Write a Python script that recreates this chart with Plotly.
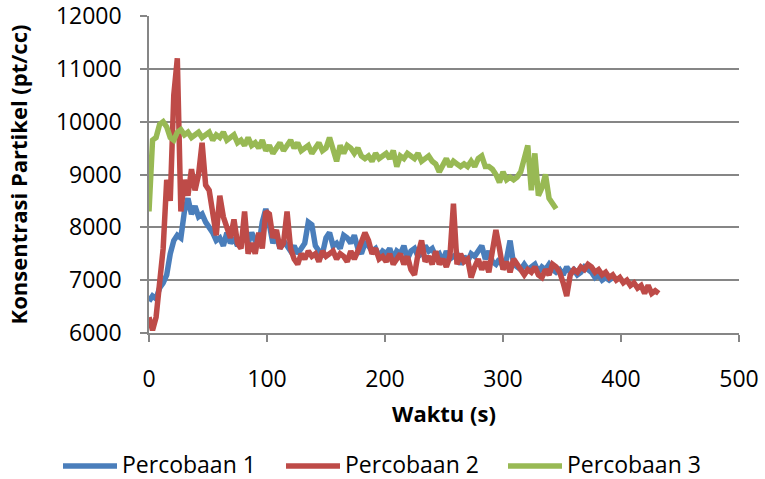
import plotly.graph_objects as go

step = 3

p1 = [6600, 6700, 6650, 6850, 6950, 7100, 7500, 7750, 7850, 7800,
      8300, 8550, 8250, 8400, 8200, 8250, 8100, 8000, 7900, 7750,
      7800, 7650, 7900, 7700, 7800, 7650, 7750, 7850, 7700, 7900,
      7750, 7650, 8100, 8350, 8050, 7700, 7850, 7600, 7750, 7650,
      7550, 7650, 7500, 7600, 7700, 8100, 8050, 7650, 7550, 7500,
      7800, 7900, 7650, 7700, 7600, 7850, 7800, 7700, 7850, 7600,
      7500, 7700, 7650, 7550, 7600, 7450, 7550, 7500, 7600, 7400,
      7550, 7500, 7650, 7400, 7550, 7600, 7450, 7500, 7650, 7550,
      7600, 7450, 7500, 7350, 7550, 7400, 7450, 7500, 7300, 7450,
      7350, 7500, 7450, 7550, 7650, 7400, 7550, 7350, 7300, 7400,
      7250, 7400, 7750, 7300, 7250, 7200, 7300, 7200, 7250, 7300,
      7150, 7250, 7200, 7300, 7200, 7150, 7200, 7100, 7250, 7150,
      7200, 7100, 7150, 7250, 7200, 7150, 7050, 7100, 7000, 7050,
      7000, 7050]

p2 = [6300, 6050, 6300, 6950, 7600, 8900, 8500, 10500, 11200, 8300,
      8900, 8600, 9100, 8700, 9000, 9600, 8800, 8700, 8200, 7850,
      8600, 8200, 8000, 7800, 8150, 7700, 7600, 8300, 7500, 7700,
      7500, 7900, 7600, 8300, 8250, 7800, 7950, 7600, 7700, 8300,
      7600, 7400, 7300, 7500, 7400, 7550, 7450, 7500, 7350, 7550,
      7450, 7500, 7550, 7400, 7500, 7450, 7350, 7550, 7400, 7550,
      7700, 7900, 7750, 7500, 7600, 7400, 7450, 7350, 7500, 7300,
      7400, 7500, 7300, 7450, 7200, 7100, 7500, 7750, 7350, 7450,
      7300, 7550, 7300, 7400, 7250, 7450, 8450, 7300, 7500, 7350,
      7400, 7050, 7250, 7400, 7200, 7350, 7150, 7600, 7950, 7600,
      7200, 7350, 7150, 7400, 7300, 7200, 7100, 7200, 7150, 7250,
      7100, 7050, 7200, 7100, 7300, 7250, 7150, 6950, 6700, 7100,
      7200, 7150, 7250, 7200, 7300, 7250, 7150, 7200, 7100, 7150,
      7050, 7100, 7000, 7050, 6950, 7000, 6900, 6950, 6850, 6900,
      6750, 6900, 6750, 6800, 6750]

p3 = [8300, 9650, 9700, 9950, 10000, 9900, 9700, 9650, 9800, 9850,
      9750, 9800, 9700, 9750, 9800, 9700, 9750, 9800, 9650, 9750,
      9700, 9800, 9650, 9700, 9750, 9600, 9650, 9550, 9700, 9550,
      9600, 9500, 9650, 9450, 9550, 9400, 9500, 9600, 9450, 9550,
      9650, 9500, 9600, 9450, 9500, 9550, 9400, 9500, 9600, 9450,
      9500, 9700, 9450, 9250, 9550, 9400, 9550, 9500, 9400, 9500,
      9350, 9300, 9350, 9250, 9400, 9300, 9350, 9400, 9300, 9450,
      9150, 9350, 9300, 9400, 9350, 9300, 9400, 9250, 9300, 9350,
      9250, 9200, 9050, 9200, 9300, 9150, 9250, 9200, 9150, 9200,
      9150, 9250, 9150, 9300, 9350, 9150, 9150, 9100, 9000, 8850,
      9050, 8900, 8950, 8900, 8950, 9050, 9300, 9550, 8700, 9400,
      8600, 8750, 9000, 8550, 8450, 8350]

names = ["Percobaan 1", "Percobaan 2", "Percobaan 3"]
colors = ["#4A7EBB", "#BE4B48", "#98B954"]
values = [p1, p2, p3]

x_ticks = [0, 100, 200, 300, 400, 500]
y_ticks = [6000, 7000, 8000, 9000, 10000, 11000, 12000]

FONT = "Open Sans, Noto Sans, Liberation Sans, sans-serif"

W, H = 765, 479
ML, MR, MT, MB = 149, 26, 16, 146
PW, PH = W - ML - MR, H - MT - MB


def px_x(px):
    return (px - ML) / PW


def px_y(py):
    return (H - MB - py) / PH


fig = go.Figure()
for name, vals, color in zip(names, values, colors):
    t = [i * step for i in range(len(vals))]
    fig.add_trace(go.Scatter(
        x=t, y=vals, mode="lines", name=name, showlegend=False,
        line=dict(color=color, width=5.5),
    ))

# Manual legend (line sample + label) below the plot
leg_y = 465
leg_line_x = [(63, 117), (286, 340), (508, 562)]
for (x0, x1), name, color in zip(leg_line_x, names, colors):
    fig.add_shape(type="line", xref="paper", yref="paper",
                  x0=px_x(x0), x1=px_x(x1), y0=px_y(leg_y + 1), y1=px_y(leg_y + 1),
                  line=dict(color=color, width=5.5))
    fig.add_annotation(xref="paper", yref="paper", x=px_x(x1 + 4), y=px_y(leg_y - 1),
                       xanchor="left", yanchor="middle", showarrow=False,
                       borderpad=0,
                       text=name, font=dict(family=FONT, size=23, color="black"))

fig.update_layout(
    width=W, height=H,
    margin=dict(l=ML, r=MR, t=MT, b=MB, autoexpand=False),
    paper_bgcolor="white", plot_bgcolor="white",
    font=dict(family=FONT, size=23, color="black"),
    showlegend=False,
)

fig.update_xaxes(
    range=[0, 500], tickvals=x_ticks, ticktext=[str(v) for v in x_ticks],
    showgrid=False, zeroline=False, automargin=False,
    showline=True, linecolor="#868686", linewidth=1.5,
    ticks="outside", ticklen=7, tickcolor="#868686", tickwidth=1.5,
    ticklabelstandoff=18, ticklabeloverflow="allow",
    title=dict(text="<b>Waktu (s)</b>", font=dict(family=FONT, size=22), standoff=13),
)
fig.update_yaxes(
    range=[6000, 12000], tickvals=y_ticks, ticktext=[str(v) for v in y_ticks],
    showgrid=True, gridcolor="#868686", gridwidth=1.5, zeroline=False, automargin=False,
    showline=True, linecolor="#868686", linewidth=1.5,
    ticks="outside", ticklen=7, tickcolor="#868686", tickwidth=1.5,
    ticklabelstandoff=14, ticklabeloverflow="allow",
    title=dict(text="<b>Konsentrasi Partikel (pt/cc)</b>", font=dict(family=FONT, size=22), standoff=22),
)

fig.write_html("out.html",
               config={"displayModeBar": False},
               post_script="document.body.style.margin='0px';")
